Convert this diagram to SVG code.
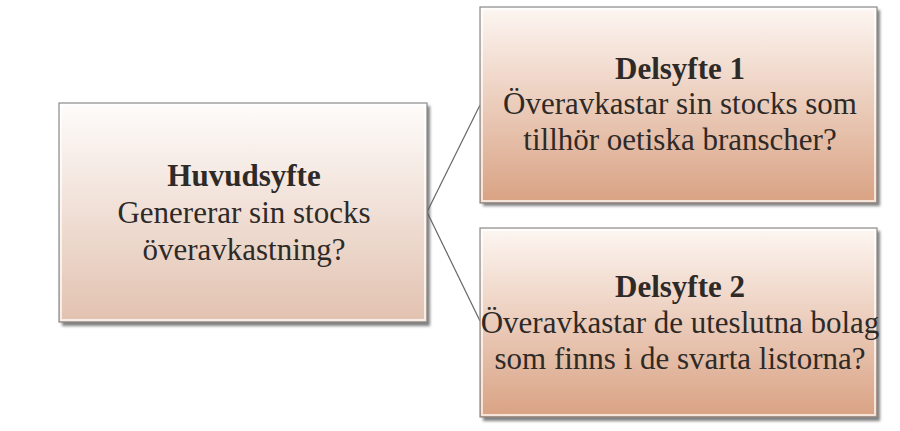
<svg xmlns="http://www.w3.org/2000/svg" width="900" height="431" viewBox="0 0 900 431">
<defs>
<linearGradient id="gl" x1="0" y1="0" x2="0" y2="1">
<stop offset="0" stop-color="#fefcfb"/>
<stop offset="1" stop-color="#e2c2b0"/>
</linearGradient>
<linearGradient id="gr" x1="0" y1="0" x2="0" y2="1">
<stop offset="0" stop-color="#fdf6f2"/>
<stop offset="1" stop-color="#d9a283"/>
</linearGradient>
<filter id="sh" x="-10%" y="-10%" width="130%" height="130%">
<feGaussianBlur stdDeviation="1.5"/>
</filter>
</defs>
<style>
.shadow{fill:#555;opacity:0.75;filter:url(#sh)}
.box{stroke:#8a8a8a;stroke-width:1.2}
.inner{fill:none;stroke:#ffffff;stroke-opacity:0.7;stroke-width:2}
.t{font-family:"Liberation Serif","Times New Roman",serif;font-size:31px;fill:#2e2a28;text-anchor:middle}
.b{font-weight:bold}
.conn{stroke:#666;stroke-width:1.2;fill:none}
</style>
<rect width="900" height="431" fill="#ffffff"/>
<g id="connectors">
<line class="conn" x1="427" y1="212" x2="480" y2="105"/>
<line class="conn" x1="427" y1="212" x2="480" y2="321"/>
</g>
<g id="huvudsyfte">
<rect class="shadow" x="62" y="106" width="368" height="220"/>
<rect class="box" x="59" y="103" width="368" height="219" fill="url(#gl)"/>
<rect class="inner" x="61" y="105" width="364" height="215"/>
<text class="t b" x="244" y="186">Huvudsyfte</text>
<text class="t" x="244" y="223">Genererar sin stocks</text>
<text class="t" x="244" y="260">överavkastning?</text>
</g>
<g id="delsyfte1">
<rect class="shadow" x="483" y="10" width="397" height="196"/>
<rect class="box" x="480" y="7" width="397" height="196" fill="url(#gr)"/>
<rect class="inner" x="482" y="9" width="393" height="192"/>
<text class="t b" x="680" y="79">Delsyfte 1</text>
<text class="t" x="680" y="114">Överavkastar sin stocks som</text>
<text class="t" x="680" y="150">tillhör oetiska branscher?</text>
</g>
<g id="delsyfte2">
<rect class="shadow" x="483" y="231" width="397" height="190"/>
<rect class="box" x="480" y="228" width="397" height="189" fill="url(#gr)"/>
<rect class="inner" x="482" y="230" width="393" height="185"/>
<text class="t b" x="680" y="297">Delsyfte 2</text>
<text class="t" x="680" y="333">Överavkastar de uteslutna bolag</text>
<text class="t" x="680" y="369">som finns i de svarta listorna?</text>
</g>
</svg>
